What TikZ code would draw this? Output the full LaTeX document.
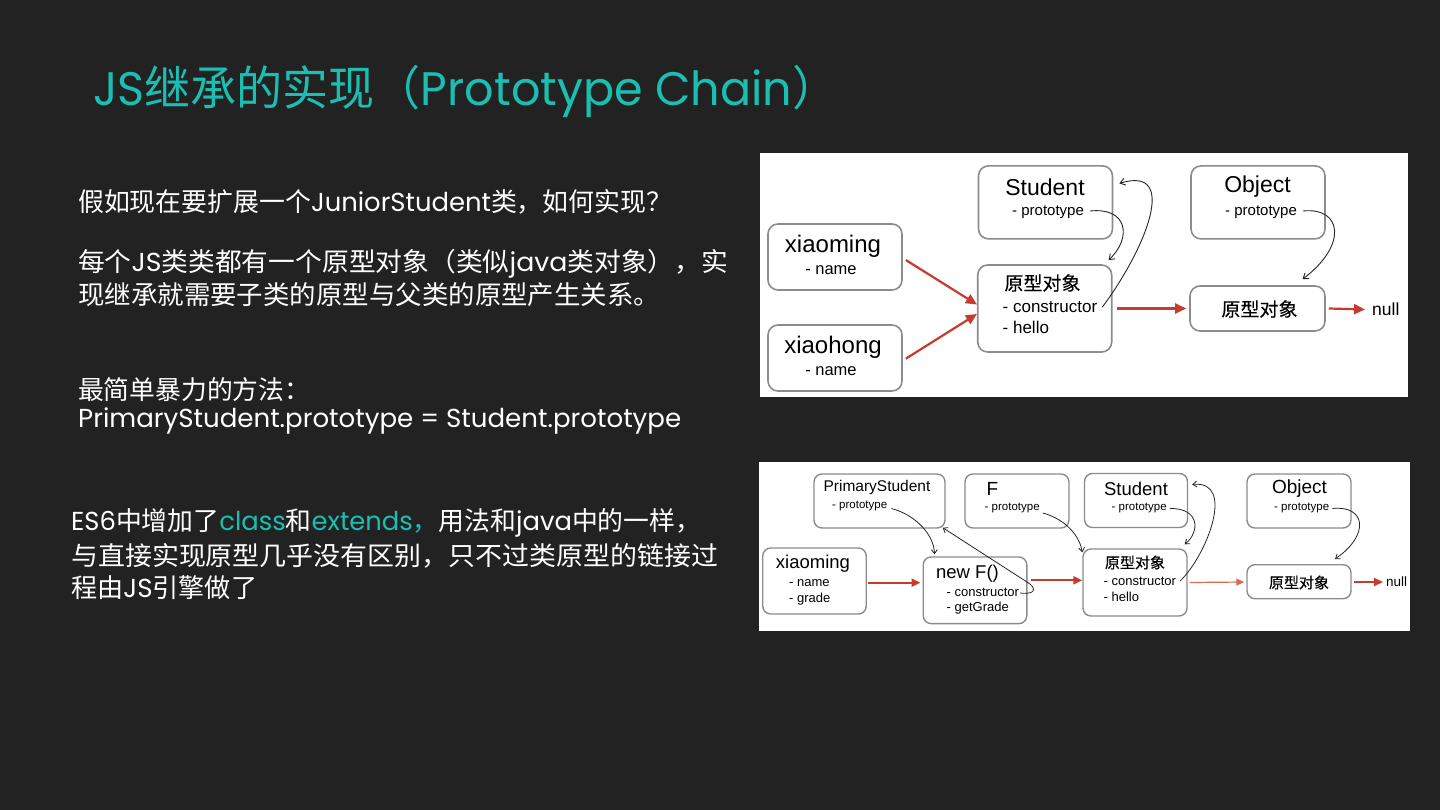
\documentclass[tikz,border=0pt]{standalone}
\usepackage{fontspec}
\usepackage{graphicx}
\usetikzlibrary{arrows.meta,calc}
\setmainfont{Poppins}
\newfontfamily\cjk{Noto Sans CJK SC}
\newfontfamily\cjkm[FakeBold=0.4]{Noto Sans CJK SC}
\newfontfamily\helv{Liberation Sans}
\definecolor{bgc}{HTML}{222222}
\definecolor{ttl}{HTML}{1ABFB1}
\definecolor{boxgray}{HTML}{8C8C8C}
\definecolor{arred}{HTML}{C63B2C}
\definecolor{arredl}{HTML}{D66A5B}
\newcommand\fs[1]{\fontsize{#1}{#1}\selectfont}
\newcommand\fitw[2]{\setbox0=\hbox{#2}\pgfmathsetmacro\fsx{#1/\the\wd0}\scalebox{\fsx}[1]{\box0}}
\begin{document}
\begin{tikzpicture}[x=1pt,y=-1pt,
  txt/.style={inner sep=0pt, text=white, anchor=west},
  dtxt/.style={inner sep=0pt, text=black},
  rbox/.style={draw=boxgray, line width=1.6pt, rounded corners=10pt, fill=white, inner sep=0pt},
  sbox/.style={draw=boxgray, line width=1.4pt, rounded corners=8pt, fill=white, inner sep=0pt},
  redarr/.style={draw=arred, line width=2.2pt, -{Triangle[length=11pt,width=10pt]}},
  redarrs/.style={draw=arred, line width=2pt, -{Triangle[length=9pt,width=8pt]}},
  redarrl/.style={draw=arredl, line width=1.2pt, -{Triangle[length=8pt,width=7pt]}},
  curv/.style={draw=black!85, line width=0.9pt, -{Straight Barb[length=5pt,width=7pt]}},
  curvs/.style={draw=black!85, line width=0.8pt, -{Straight Barb[length=4pt,width=6pt]}}]
\useasboundingbox (0,0) rectangle (1440,810);
\fill[bgc] (0,0) rectangle (1440,810);

% title
\node[txt, text=ttl] (title) at (93,91) {\fitw{745}{\fs{47}JS{\cjk 继承的实现（}Prototype Chain{\cjk ）}}};

% left text
\node[txt] (l1) at (78,202) {\fitw{594}{\fs{26}{\cjk 假如现在要扩展一个}JuniorStudent{\cjk 类，如何实现？}}};
\node[txt] (l2) at (78,264) {\fitw{650}{\fs{26}{\cjk 每个}JS{\cjk 类类都有一个原型对象（类似}java{\cjk 类对象），实}}};
\node[txt] (l3) at (78,295) {\fitw{582}{\fs{26}{\cjk 现继承就需要子类的原型与父类的原型产生关系。}}};
\node[txt] (l4) at (78,390) {\fitw{232}{\fs{26}{\cjk 最简单暴力的方法：}}};
\node[txt] (l5) at (78,421) {\fitw{603}{\fs{26}PrimaryStudent.prototype = Student.prototype}};
\node[txt] (l6) at (71,523) {\fitw{630}{\fs{26}ES6{\cjk 中增加了}{\color{ttl}class}{\cjk 和}{\color{ttl}extends{\cjk ，}}{\cjk 用法和}java{\cjk 中的一样，}}};
\node[txt] (l7) at (71,556) {\fitw{647}{\fs{26}{\cjk 与直接实现原型几乎没有区别，只不过类原型的链接过}}};
\node[txt] (l8) at (71,588) {\fitw{186}{\fs{26}{\cjk 程由}JS{\cjk 引擎做了}}};

% ---------- panel 1 ----------
\fill[white] (760,153) rectangle (1408,397);
\node[rbox, minimum width=134pt, minimum height=73pt] (stu) at (1045.5,202.4) {};
\node[rbox, minimum width=134pt, minimum height=73pt] (obj) at (1258,202.4) {};
\node[rbox, minimum width=134pt, minimum height=66pt] (xm) at (835,257) {};
\node[rbox, minimum width=134pt, minimum height=66pt] (xh) at (835,358) {};
\node[rbox, minimum width=134pt, minimum height=87pt] (b1) at (1044.7,308.5) {};
\node[rbox, minimum width=135pt, minimum height=45pt] (b2) at (1257.5,308.5) {};

\node[dtxt, font={\helv\fs{23}}] (stuT) at (1045,187) {Student};
\node[dtxt, anchor=west, font={\helv\fs{15}}] (stuP) at (1012,212) {- prototype};
\node[dtxt, font={\helv\fs{23}}] (objT) at (1257.5,187) {Object};
\node[dtxt, anchor=west, font={\helv\fs{15}}] (objP) at (1225,212) {- prototype};
\node[dtxt, font={\helv\fs{24}}] (xmT) at (833,246) {xiaoming};
\node[dtxt, font={\helv\fs{16.5}}] (xmN) at (831,270) {- name};
\node[dtxt, font={\helv\fs{24}}] (xhT) at (833,347) {xiaohong};
\node[dtxt, font={\helv\fs{16.5}}] (xhN) at (831,371) {- name};
\node[dtxt, font={\cjkm\fs{19}}] (b1T) at (1042.5,283) {原型对象};
\node[dtxt, anchor=west, font={\helv\fs{17}}] (b1C) at (1002.5,307) {- constructor};
\node[dtxt, anchor=west, font={\helv\fs{17}}] (b1H) at (1002.5,327) {- hello};
\node[dtxt, font={\cjkm\fs{19}}] (b2T) at (1259.5,309) {原型对象};
\node[dtxt, anchor=west, font={\helv\fs{17.5}}] (null1) at (1372,309.5) {null};

\draw[redarr] ($(xm.east)+(3,3)$) -- ($(b1.west)+(0,-4)$);
\draw[redarr] ($(xh.east)+(3,0.7)$) -- ($(b1.west)+(0,5.5)$);
\draw[redarr] ($(b1.east)+(4,0)$) -- ($(b2.west)+(-3,0)$);
\draw[redarr] ($(b2.east)+(3,0)$) -- ($(null1.west)+(-7,0)$);

\draw[curv] ($(stuP.east)+(6,-1)$) .. controls (1128,207) and (1132,238) .. ($(b1.north east)+(-4,-4)$);
\draw[curv] ($(b1C.east)+(5,0)$) .. controls (1145,250) and (1180,165) .. ($(stu.east)+(6,-19)$);
\draw[curv] ($(objP.east)+(6,-1)$) .. controls (1342,207) and (1348,245) .. ($(b2.north)+(45,-6)$);

% ---------- panel 2 ----------
\fill[white] (759,462) rectangle (1410,631);
\node[sbox, minimum width=131pt, minimum height=54pt] (ps) at (879.5,501) {};
\node[sbox, minimum width=104pt, minimum height=54pt] (f) at (1017,501) {};
\node[sbox, minimum width=103pt, minimum height=54pt] (st2) at (1136,500.5) {};
\node[sbox, minimum width=104pt, minimum height=54pt] (ob2) at (1299,501) {};
\node[sbox, minimum width=103.5pt, minimum height=66pt] (xm2) at (814.5,581) {};
\node[sbox, minimum width=103.6pt, minimum height=66.7pt] (nf) at (975,590.3) {};
\node[sbox, minimum width=104pt, minimum height=67pt] (m2) at (1135,582.5) {};
\node[sbox, minimum width=104pt, minimum height=34pt] (b22) at (1299,581.7) {};

\node[dtxt, font={\helv\fs{15.5}}] (psT) at (877,487.5) {PrimaryStudent};
\node[dtxt, anchor=west, font={\helv\fs{11.5}}] (psP) at (832,505.5) {- prototype};
\node[dtxt, anchor=west, font={\helv\fs{19}}] (fT) at (986.5,489) {F};
\node[dtxt, anchor=west, font={\helv\fs{11.5}}] (fP) at (984.5,508) {- prototype};
\node[dtxt, font={\helv\fs{18.5}}] (st2T) at (1136,489) {Student};
\node[dtxt, anchor=west, font={\helv\fs{11.5}}] (st2P) at (1111.5,508) {- prototype};
\node[dtxt, font={\helv\fs{19}}] (ob2T) at (1299.5,489) {Object};
\node[dtxt, anchor=west, font={\helv\fs{11.5}}] (ob2P) at (1274,508) {- prototype};
\node[dtxt, font={\helv\fs{18.5}}] (xm2T) at (813,564) {xiaoming};
\node[dtxt, anchor=west, font={\helv\fs{13}}] (xm2N) at (789,583) {- name};
\node[dtxt, anchor=west, font={\helv\fs{13}}] (xm2G) at (789,599) {- grade};
\node[dtxt, font={\helv\fs{18.5}}] (nfT) at (967.5,574) {new F()};
\node[dtxt, anchor=west, font={\helv\fs{13}}] (nfC) at (946.5,592.5) {- constructor};
\node[dtxt, anchor=west, font={\helv\fs{13}}] (nfG) at (946.5,608) {- getGrade};
\node[dtxt, font={\cjkm\fs{15}}] (m2T) at (1135,562.5) {原型对象};
\node[dtxt, anchor=west, font={\helv\fs{13}}] (m2C) at (1103.5,581) {- constructor};
\node[dtxt, anchor=west, font={\helv\fs{13}}] (m2H) at (1103.5,597) {- hello};
\node[dtxt, font={\cjkm\fs{15}}] (b22T) at (1299,582.5) {原型对象};
\node[dtxt, anchor=west, font={\helv\fs{13.5}}] (null2) at (1386,582) {null};

\draw[redarrs] ($(xm2.east)+(1,1.7)$) -- ($(nf.west)+(-2,-7.6)$);
\draw[redarrs] ($(nf.east)+(3,-10)$) -- ($(m2.west)+(0,-2.2)$);
\draw[redarrl] ($(m2.east)+(2,0)$) -- ($(b22.west)+(-2,0.3)$);
\draw[redarrs] ($(b22.east)+(2,0.3)$) -- ($(null2.west)+(-3,0)$);

\draw[curvs] ($(psP.east)+(4,3)$) .. controls (916,515) and (934,535) .. ($(nf.north west)+(12,-2)$);
\draw[curvs] ($(nfC.east)+(1,0.5)$) .. controls (1036,595) and (1037,588) .. (1027,582) -- ($(ps.south east)+(-3,-1)$);
\draw[curvs] ($(fP.east)+(3,5)$) .. controls (1068,520) and (1080,538) .. ($(m2.north west)+(0,4)$);
\draw[curvs] ($(st2P.east)+(3,0.5)$) .. controls (1200,508) and (1200,532) .. ($(m2.north east)+(-3,-4)$);
\draw[curvs] ($(m2C.east)+(4,0)$) .. controls (1207,555) and (1236,480) .. ($(st2.east)+(4,-16)$);
\draw[curvs] ($(ob2P.east)+(3,0.5)$) .. controls (1366,505) and (1370,535) .. ($(b22.north)+(36,-5)$);
\end{tikzpicture}
\end{document}
